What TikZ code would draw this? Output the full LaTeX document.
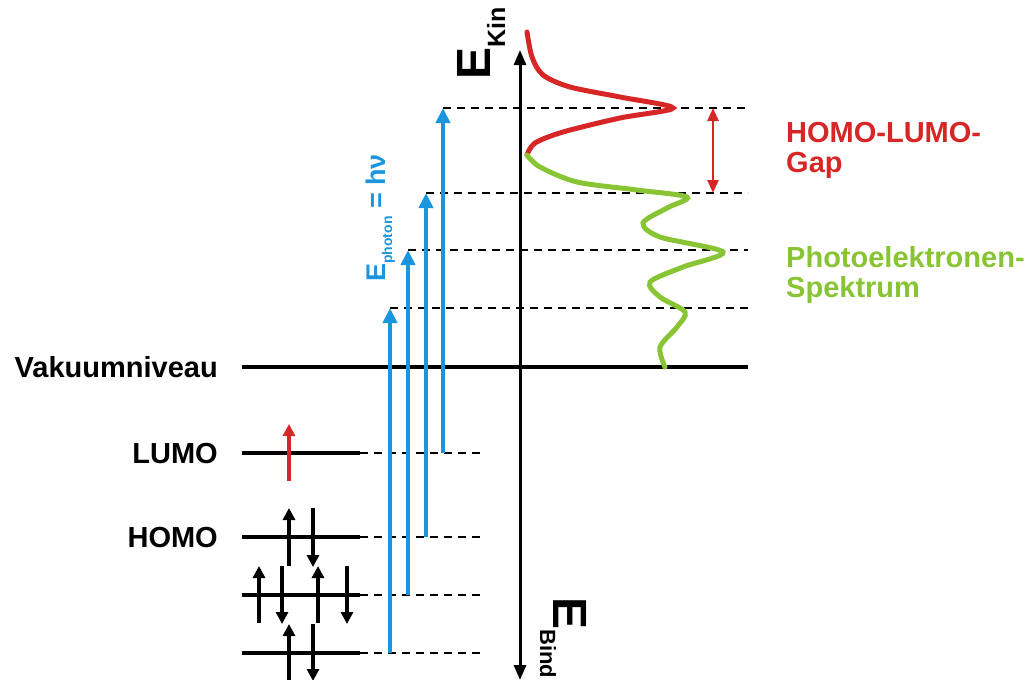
\documentclass[tikz,border=0pt]{standalone}
\usepackage{fontspec}
\setmainfont{Liberation Sans}
\usetikzlibrary{arrows.meta}
\definecolor{photonblue}{RGB}{27,150,222}
\definecolor{gapred}{RGB}{215,38,38}
\definecolor{pesgreen}{RGB}{137,196,52}
\begin{document}
\begin{tikzpicture}[x=1pt,y=-1pt,
  lbl/.style={font=\fontsize{29}{32}\selectfont\bfseries,inner sep=0pt},
  level/.style={line width=4pt},
  guide/.style={line width=2.2pt,dash pattern=on 8pt off 6pt},
  photon/.style={photonblue,line width=4pt,-{Triangle[width=14pt,length=15pt]}},
  spin/.style={line width=4pt,-{Triangle[width=12pt,length=12pt]}},
  spec/.style={line width=5pt,line cap=round}]
\useasboundingbox (0,0) rectangle (1034,680);
% energy axis
\coordinate (axbot) at (520,680);
\coordinate (axtop) at (520,50);
\draw[line width=3pt,{Triangle[width=12pt,length=15pt]}-{Triangle[width=12pt,length=15pt]}] (axbot) -- (axtop);
\node[rotate=90,anchor=base west,inner sep=0pt,font=\fontsize{48}{48}\selectfont\bfseries] (ekin) at (490,80)
  {E\raisebox{-15pt}{\fontsize{25}{25}\selectfont Kin}};
\node[rotate=-90,anchor=base west,inner sep=0pt,font=\fontsize{48}{48}\selectfont\bfseries] (ebind) at (553,597)
  {E\raisebox{-13pt}{\fontsize{22}{22}\selectfont Bind}};
% vacuum level
\coordinate (vakL) at (242,367);
\coordinate (vakR) at (748,367);
\draw[level] (vakL) -- (vakR);
\node[lbl,anchor=base east] (vak) at (218,377) {Vakuumniveau};
% orbital levels
\foreach \n/\y in {lumo/453,homo/537,mob/595,moc/653} {
  \coordinate (\n-a) at (242,\y);
  \coordinate (\n-b) at (360,\y);
  \coordinate (\n-c) at (482,\y);
  \draw[level] (\n-a) -- (\n-b);
  \draw[guide] (\n-b) -- (\n-c);
}
\node[lbl,anchor=base east] (lumo) at (218,463) {LUMO};
\node[lbl,anchor=base east] (homo) at (218,547) {HOMO};
% electrons
\draw[spin,gapred] (289,481) -- (289,424);
\foreach \x/\ya/\yb in {289/566/508,313/508/567,259/623/566,282/566/624,318/623/566,347/566/624,289/682/624,313/624/681}
  \draw[spin] (\x,\ya) -- (\x,\yb);
% photons and photoelectron levels
\foreach \n/\x/\y/\t in {moc/390/653/308,mob/408/595/250,homo/426/537/193,lumo/443/453/108} {
  \coordinate (\n-p) at (\x,\y);
  \coordinate (\n-f) at (\x,\t);
  \coordinate (\n-e) at (748,\t);
  \draw[guide] (\n-f) -- (\n-e);
  \draw[photon] (\n-p) -- (\n-f);
}
\node[rotate=90,anchor=base west,inner sep=0pt,photonblue,font=\fontsize{27}{27}\selectfont\bfseries] (ephot) at (385,282)
  {E\raisebox{-7pt}{\fontsize{14}{14}\selectfont photon} = hν};
% spectrum
\draw[spec,gapred] plot[smooth] coordinates {(527,32) (532,57) (543,75) (570,87) (620,97) (673,108) (620,118) (563,132) (535,143) (527,155)};
\draw[spec,pesgreen] plot[smooth] coordinates {(527,155) (540,167) (577,182) (637,190) (687,197) (667,208) (643,223) (660,237) (723,252) (683,267) (650,282) (660,297) (685,312) (677,327) (660,347) (665,367)};
\coordinate (gapT) at (713,108);
\coordinate (gapB) at (713,193);
\draw[gapred,line width=2.5pt,{Triangle[width=11pt,length=13pt]}-{Triangle[width=11pt,length=13pt]}] (gapT) -- (gapB);
\node[lbl,gapred,anchor=base west] (gap) at (786,142) {HOMO-LUMO-};
\node[lbl,gapred,anchor=base west] (gap2) at (786,172) {Gap};
\node[lbl,pesgreen,anchor=base west] (pes) at (786,267) {Photoelektronen-};
\node[lbl,pesgreen,anchor=base west] (pes2) at (786,297) {Spektrum};
\end{tikzpicture}
\end{document}
